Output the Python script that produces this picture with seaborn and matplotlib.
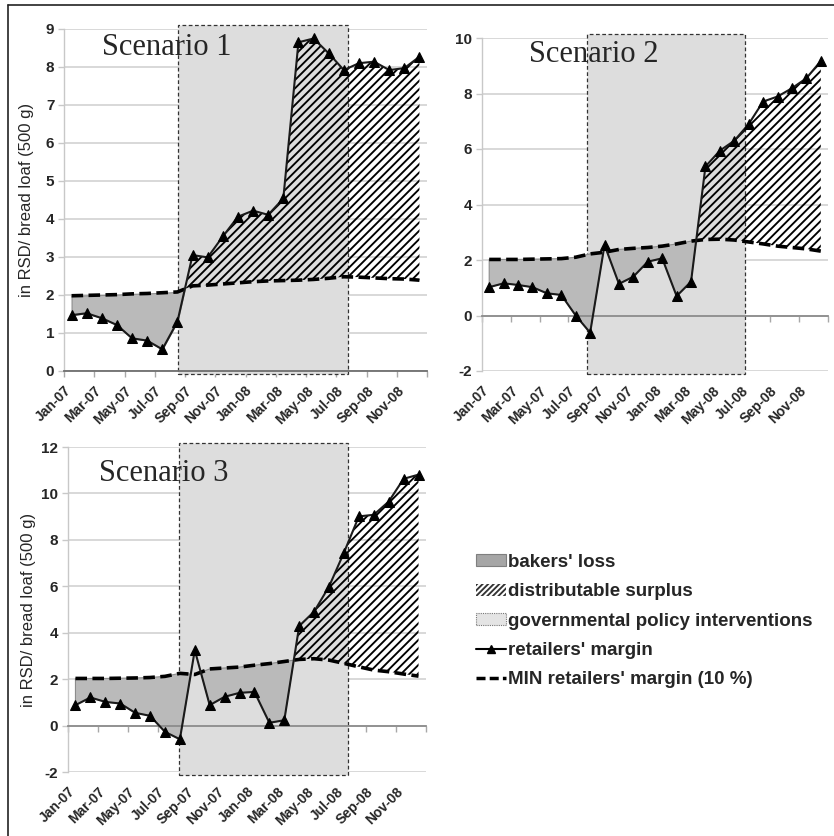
import numpy as np
import matplotlib
matplotlib.use("Agg")
import matplotlib.pyplot as plt
import seaborn as sns
from matplotlib.patches import Patch, Rectangle
from matplotlib.lines import Line2D

# ---- data -----------------------------------------------------------------
months = ["Jan-07", "Feb-07", "Mar-07", "Apr-07", "May-07", "Jun-07",
          "Jul-07", "Aug-07", "Sep-07", "Oct-07", "Nov-07", "Dec-07",
          "Jan-08", "Feb-08", "Mar-08", "Apr-08", "May-08", "Jun-08",
          "Jul-08", "Aug-08", "Sep-08", "Oct-08", "Nov-08", "Dec-08"]
tick_labels = ["Jan-07", "Mar-07", "May-07", "Jul-07", "Sep-07", "Nov-07",
               "Jan-08", "Mar-08", "May-08", "Jul-08", "Sep-08", "Nov-08"]

margin_s1 = [1.47, 1.52, 1.39, 1.21, 0.86, 0.80, 0.57, 1.30, 3.05, 2.99, 3.54, 4.06,
             4.22, 4.11, 4.54, 8.65, 8.75, 8.36, 7.92, 8.10, 8.14, 7.92, 7.97, 8.27]
min_s1 = [1.98, 1.99, 2.00, 2.01, 2.03, 2.04, 2.06, 2.08, 2.24, 2.26, 2.29, 2.32,
          2.35, 2.37, 2.38, 2.39, 2.41, 2.44, 2.48, 2.47, 2.45, 2.43, 2.42, 2.39]

margin_s2 = [1.02, 1.16, 1.10, 1.02, 0.80, 0.74, 0.00, -0.62, 2.54, 1.14, 1.40, 1.94,
             2.06, 0.70, 1.22, 5.37, 5.94, 6.30, 6.90, 7.71, 7.89, 8.19, 8.55, 9.17]
min_s2 = [2.02, 2.02, 2.02, 2.03, 2.04, 2.05, 2.10, 2.22, 2.28, 2.38, 2.42, 2.45,
          2.50, 2.58, 2.68, 2.74, 2.75, 2.72, 2.65, 2.58, 2.50, 2.45, 2.40, 2.32]

margin_s3 = [0.88, 1.21, 1.02, 0.95, 0.55, 0.42, -0.27, -0.59, 3.25, 0.88, 1.24, 1.41,
             1.45, 0.12, 0.23, 4.29, 4.91, 5.99, 7.45, 9.01, 9.08, 9.65, 10.63, 10.81]
min_s3 = [2.03, 2.03, 2.03, 2.04, 2.05, 2.07, 2.12, 2.25, 2.20, 2.44, 2.48, 2.52,
          2.60, 2.67, 2.76, 2.85, 2.88, 2.82, 2.68, 2.53, 2.39, 2.32, 2.22, 2.13]

scenarios = ["Scenario 1", "Scenario 2", "Scenario 3"]
# policy-intervention window (month index, fractional)
policy_start = [7.05, 6.75, 6.93]
policy_end = [18.27, 17.75, 18.25]
# first month from which a surplus is counted
surplus_from = [7, 14, 14]

legend_labels = ["bakers' loss", "distributable surplus",
                 "governmental policy interventions", "retailers' margin",
                 "MIN retailers' margin (10 %)"]

# ---- style ----------------------------------------------------------------
sns.set_theme(style="white")
plt.rcParams["font.family"] = ["Liberation Sans", "DejaVu Sans"]
plt.rcParams["axes.unicode_minus"] = False
plt.rcParams["hatch.linewidth"] = 1.35

W, H = 834, 836
fig = plt.figure(figsize=(W / 100, H / 100), dpi=100)


def px_axes(left, top, right, bottom):
    return fig.add_axes([left / W, 1 - bottom / H, (right - left) / W, (bottom - top) / H])


axes = [px_axes(64, 29, 427, 371),
        px_axes(482, 38, 828, 371),
        px_axes(68, 447, 426, 772)]
limits = [(0, 9, 1), (-2, 10, 2), (-2, 12, 2)]
margins = [margin_s1, margin_s2, margin_s3]
minimums = [min_s1, min_s2, min_s3]
text_xy = [(0.105, 0.924), (0.135, 0.929), (0.086, 0.896)]
ylabel_x = [-0.103, None, -0.110]

x = np.arange(len(months))
for i, ax in enumerate(axes):
    m = np.asarray(margins[i], dtype=float)
    mn = np.asarray(minimums[i], dtype=float)
    lo, hi, step = limits[i]
    ax.set_xlim(-0.5, 23.5)
    ax.set_ylim(lo, hi)
    ax.set_yticks(np.arange(lo, hi + 0.01, step))
    ax.yaxis.grid(True, color="#d6d6d6", lw=1.3, zorder=0)
    ax.xaxis.grid(False)
    ax.set_axisbelow(True)

    # policy-intervention window
    tr = ax.get_xaxis_transform()
    ax.add_patch(Rectangle((policy_start[i], -0.009), policy_end[i] - policy_start[i], 1.021,
                           transform=tr, facecolor="#dddddd", edgecolor="#333333",
                           lw=0.9, linestyle=(0, (3, 2)), clip_on=False, zorder=0.9))

    # bakers' loss and distributable surplus areas
    ax.fill_between(x, m, mn, where=m < mn, interpolate=True,
                    facecolor="#bababa", edgecolor="#8c8c8c", lw=0.8, zorder=1)
    ax.fill_between(x, m, mn, where=(m >= mn) & (x >= surplus_from[i]), interpolate=True,
                    facecolor="none", edgecolor="black", hatch="////", lw=0, zorder=1)

    # lines
    sns.lineplot(x=x, y=mn, ax=ax, color="black", lw=2.6, zorder=3, legend=False)
    ax.lines[-1].set_dashes((3.2, 1.5))
    sns.lineplot(x=x, y=m, ax=ax, color="#1a1a1a", lw=1.5, marker="^", markersize=7.5,
                 markeredgecolor="black", markerfacecolor="black", zorder=4, legend=False)

    # axes decoration
    for s in ("top", "right"):
        ax.spines[s].set_visible(False)
    ax.spines["left"].set_color("#c8c8c8")
    ax.spines["left"].set_linewidth(1.0)
    ax.spines["bottom"].set_position(("data", 0))
    ax.spines["bottom"].set_color("#6e6e6e" if i == 0 else "#8c8c8c")
    ax.spines["bottom"].set_linewidth(1.3)
    ax.set_xticks(np.arange(-0.5, 24, 2))
    ax.tick_params(axis="x", which="both", bottom=True, length=4, width=1,
                   color="#a8a8a8", direction="out", labelbottom=False)
    ax.tick_params(axis="y", left=True, length=4, width=1, color="#c8c8c8",
                   labelsize=11, pad=3)
    for t in ax.get_yticklabels():
        t.set_fontweight("bold")

    sec = ax.secondary_xaxis("bottom")
    sec.set_xticks(np.arange(-0.5, 23, 2))
    sec.set_xticklabels(tick_labels, rotation=45, ha="right", va="top",
                        rotation_mode="anchor", fontweight="bold", fontsize=10)
    sec.tick_params(length=0, pad=9)
    sec.spines["bottom"].set_visible(False)

    ax.set_xlabel("")
    if ylabel_x[i] is not None:
        ax.set_ylabel("in RSD/ bread loaf (500 g)", fontsize=12)
        ax.yaxis.set_label_coords(ylabel_x[i], 0.5)
        ax.yaxis.label.set_verticalalignment("center")
    else:
        ax.set_ylabel("")

    ax.text(text_xy[i][0], text_xy[i][1], scenarios[i], transform=ax.transAxes,
            family=["Liberation Serif", "DejaVu Serif"], fontsize=22,
            va="baseline", ha="left", zorder=6)

# ---- legend ---------------------------------------------------------------
handles = [
    Patch(facecolor="#a6a6a6", edgecolor="#7f7f7f", lw=0.8),
    Patch(facecolor="white", edgecolor="#333333", hatch="//////", lw=0),
    Patch(facecolor="#e4e4e4", edgecolor="#777777", lw=0.8, linestyle=(0, (1, 1))),
    Line2D([0], [0], color="black", lw=1.5, marker="^", markersize=6),
    Line2D([0], [0], color="black", lw=2.5, dashes=(2.6, 1.2)),
]
fig.legend(handles, legend_labels, loc="upper left",
           bbox_to_anchor=(476 / W, 1 - 554 / H), frameon=False,
           prop={"size": 13.5, "weight": "bold"}, handlelength=1.6,
           handleheight=0.6, handletextpad=0.1, labelspacing=0.66,
           borderaxespad=0, borderpad=0)

# outer frame lines
fig.add_artist(Line2D([8 / W, 8 / W], [0, 1 - 5 / H], transform=fig.transFigure,
                      color="#222222", lw=1.2))
fig.add_artist(Line2D([8 / W, 1], [1 - 5 / H, 1 - 5 / H], transform=fig.transFigure,
                      color="#222222", lw=1.2))

fig.savefig("out.png", dpi=100, facecolor="white")
